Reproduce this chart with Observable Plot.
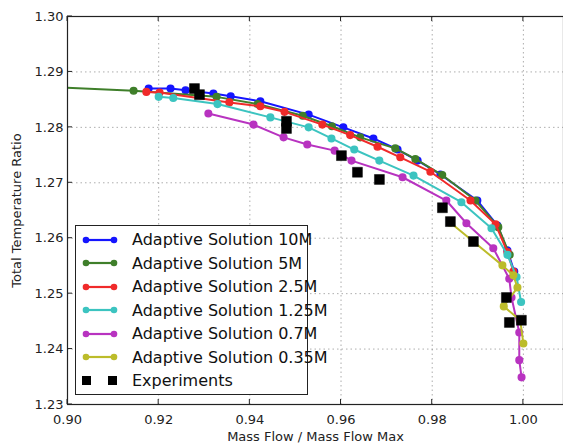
<!DOCTYPE html>
<html>
<head>
<meta charset="utf-8">
<script src="https://cdn.jsdelivr.net/npm/d3@7"></script>
<script src="https://cdn.jsdelivr.net/npm/@observablehq/plot@0.6"></script>
<style>
  body { margin: 0; background: #fff; }
  #wrap { position: relative; width: 563px; height: 445px; font-family: "DejaVu Sans", sans-serif; }
  #legend { position: absolute; left: 75px; top: 225px; width: 233px; height: 170px; background: #fff;
            border: 1.5px solid #222; box-sizing: border-box; padding: 2px 0 0 6px; font-size: 16px; color: #111; }
  .row { display: flex; align-items: center; height: 23.5px; }
  .row svg { margin-right: 14px; flex: none; }
  .row span { white-space: nowrap; }
</style>
</head>
<body>
<div id="wrap"></div>
<script>
const seriesNames = ["Adaptive Solution 10M", "Adaptive Solution 5M", "Adaptive Solution 2.5M",
  "Adaptive Solution 1.25M", "Adaptive Solution 0.7M", "Adaptive Solution 0.35M"];
const seriesColors = ["#1515ff", "#3f7f2a", "#f02a2a", "#3cc4c0", "#b833c0", "#bcbc2a"];

const x10M = [0.9178, 0.9226, 0.9259, 0.9320, 0.9358, 0.9423, 0.9529, 0.9605, 0.9671, 0.9724, 0.9768, 0.9818, 0.9899, 0.9943, 0.9965, 0.9980];
const y10M = [1.2870, 1.2870, 1.2867, 1.2861, 1.2856, 1.2847, 1.2823, 1.2800, 1.2780, 1.2760, 1.2740, 1.2715, 1.2668, 1.2623, 1.2578, 1.2540];

const x5M = [0.8950, 0.9145, 0.9327, 0.9417, 0.9516, 0.9580, 0.9642, 0.9719, 0.9763, 0.9822, 0.9895, 0.9945, 0.9970];
const y5M = [1.2873, 1.2866, 1.2855, 1.2842, 1.2821, 1.2802, 1.2782, 1.2762, 1.2743, 1.2714, 1.2668, 1.2620, 1.2570];

const x2_5M = [0.9173, 0.9202, 0.9355, 0.9423, 0.9476, 0.9559, 0.9620, 0.9680, 0.9730, 0.9796, 0.9884, 0.9939, 0.9965, 0.9978];
const y2_5M = [1.2864, 1.2863, 1.2845, 1.2838, 1.2828, 1.2805, 1.2786, 1.2765, 1.2746, 1.2720, 1.2668, 1.2625, 1.2575, 1.2540];

const x1_25M = [0.9200, 0.9232, 0.9329, 0.9445, 0.9529, 0.9579, 0.9629, 0.9684, 0.9759, 0.9864, 0.9930, 0.9965, 0.9985, 0.9995];
const y1_25M = [1.2855, 1.2853, 1.2842, 1.2818, 1.2800, 1.2780, 1.2760, 1.2740, 1.2713, 1.2665, 1.2618, 1.2570, 1.2530, 1.2485];

const x0_7M = [0.9309, 0.9408, 0.9474, 0.9526, 0.9586, 0.9623, 0.9735, 0.9831, 0.9875, 0.9934, 0.9969, 0.9974, 0.9991, 0.9991, 0.9996];
const y0_7M = [1.2825, 1.2805, 1.2782, 1.2769, 1.2758, 1.2740, 1.2710, 1.2668, 1.2627, 1.2582, 1.2527, 1.2493, 1.2430, 1.2380, 1.2349];

const x0_35M = [0.9840, 0.9954, 0.9978, 0.9987, 0.9957, 0.9993, 1.0000];
const y0_35M = [1.2628, 1.2551, 1.2533, 1.2511, 1.2477, 1.2452, 1.2410];

const xExp = [0.92785, 0.92895, 0.94803, 0.94803, 0.96009, 0.96360, 0.96842, 0.98224, 0.98399, 0.98904, 0.99627, 0.99693, 0.99956];
const yExp = [1.2870, 1.2859, 1.2811, 1.2798, 1.2749, 1.2719, 1.2706, 1.2655, 1.2630, 1.2594, 1.2493, 1.2448, 1.2452];

const xTicks = [0.90, 0.92, 0.94, 0.96, 0.98, 1.00];
const yTicks = [1.23, 1.24, 1.25, 1.26, 1.27, 1.28, 1.29, 1.30];

const xs = [x10M, x5M, x2_5M, x1_25M, x0_7M, x0_35M];
const ys = [y10M, y5M, y2_5M, y1_25M, y0_7M, y0_35M];
const rows = [];
xs.forEach((xa, s) => xa.forEach((x, i) => rows.push({series: seriesNames[s], x, y: ys[s][i]})));
const exp = xExp.map((x, i) => ({x, y: yExp[i]}));

const lineMarks = seriesNames.flatMap((name, s) => {
  const d = rows.filter(r => r.series === name);
  return [
    Plot.line(d, {x: "x", y: "y", stroke: seriesColors[s], strokeWidth: 2, clip: true}),
    Plot.dot(d, {x: "x", y: "y", fill: seriesColors[s], stroke: seriesColors[s], r: 3.3, clip: true})
  ];
});

const tickLen = 5;
const chart = Plot.plot({
  width: 563, height: 445,
  marginLeft: 67, marginTop: 16, marginRight: 0, marginBottom: 41,
  style: {fontFamily: "DejaVu Sans, sans-serif", fontSize: "13px", color: "#222", background: "#fff"},
  x: {domain: [0.90, 1.0088]},
  y: {domain: [1.23, 1.30]},
  marks: [
    Plot.gridX(xTicks, {stroke: "#777", strokeOpacity: 0.6, strokeDasharray: "1.5,3"}),
    Plot.gridY(yTicks, {stroke: "#777", strokeOpacity: 0.6, strokeDasharray: "1.5,3"}),
    Plot.axisX(xTicks, {tickSize: 0, tickPadding: 10, tickFormat: d3.format(".2f"),
      label: "Mass Flow / Mass Flow Max", labelAnchor: "center", labelArrow: "none", labelOffset: 36}),
    Plot.axisY(yTicks, {tickSize: 0, tickPadding: 4, tickFormat: d3.format(".2f"),
      label: "Total Temperature Ratio", labelAnchor: "center", labelArrow: "none", labelOffset: 56}),
    ...lineMarks,
    Plot.dot(exp, {x: "x", y: "y", symbol: "square", r: 5.6, fill: "black", stroke: "black", strokeWidth: 0.5}),
    Plot.frame({stroke: "#222", strokeWidth: 1.2})
  ]
});

// inward tick marks, positioned with the chart's own scales
const sx = chart.scale("x"), sy = chart.scale("y");
const svgNS = "http://www.w3.org/2000/svg";
const tg = document.createElementNS(svgNS, "g");
tg.setAttribute("stroke", "#222");
const [yb, yt] = [sy.apply(1.23), sy.apply(1.30)];
const xl = sx.apply(0.90);
for (const t of xTicks) {
  const px = sx.apply(t);
  for (const [a, b] of [[yb, yb - tickLen], [yt, yt + tickLen]]) {
    const l = document.createElementNS(svgNS, "line");
    l.setAttribute("x1", px); l.setAttribute("x2", px); l.setAttribute("y1", a); l.setAttribute("y2", b);
    tg.appendChild(l);
  }
}
for (const t of yTicks) {
  const py = sy.apply(t);
  const l = document.createElementNS(svgNS, "line");
  l.setAttribute("x1", xl); l.setAttribute("x2", xl + tickLen); l.setAttribute("y1", py); l.setAttribute("y2", py);
  tg.appendChild(l);
}
chart.appendChild(tg);

const wrap = document.getElementById("wrap");
wrap.appendChild(chart);

const legend = document.createElement("div");
legend.id = "legend";
const entries = seriesNames.map((n, i) => ({name: n, color: seriesColors[i], kind: "line"}));
entries.push({name: "Experiments", color: "black", kind: "square"});
for (const e of entries) {
  const row = document.createElement("div");
  row.className = "row";
  const sw = e.kind === "line"
    ? `<svg width="36" height="12"><line x1="3" y1="6" x2="33" y2="6" stroke="${e.color}" stroke-width="2.2"/><circle cx="4" cy="6" r="3.3" fill="${e.color}"/><circle cx="32" cy="6" r="3.3" fill="${e.color}"/></svg>`
    : `<svg width="36" height="12"><rect x="0" y="1" width="9" height="9" fill="black"/><rect x="26" y="1" width="9" height="9" fill="black"/></svg>`;
  row.innerHTML = sw + `<span>${e.name}</span>`;
  legend.appendChild(row);
}
wrap.appendChild(legend);
</script>
</body>
</html>
